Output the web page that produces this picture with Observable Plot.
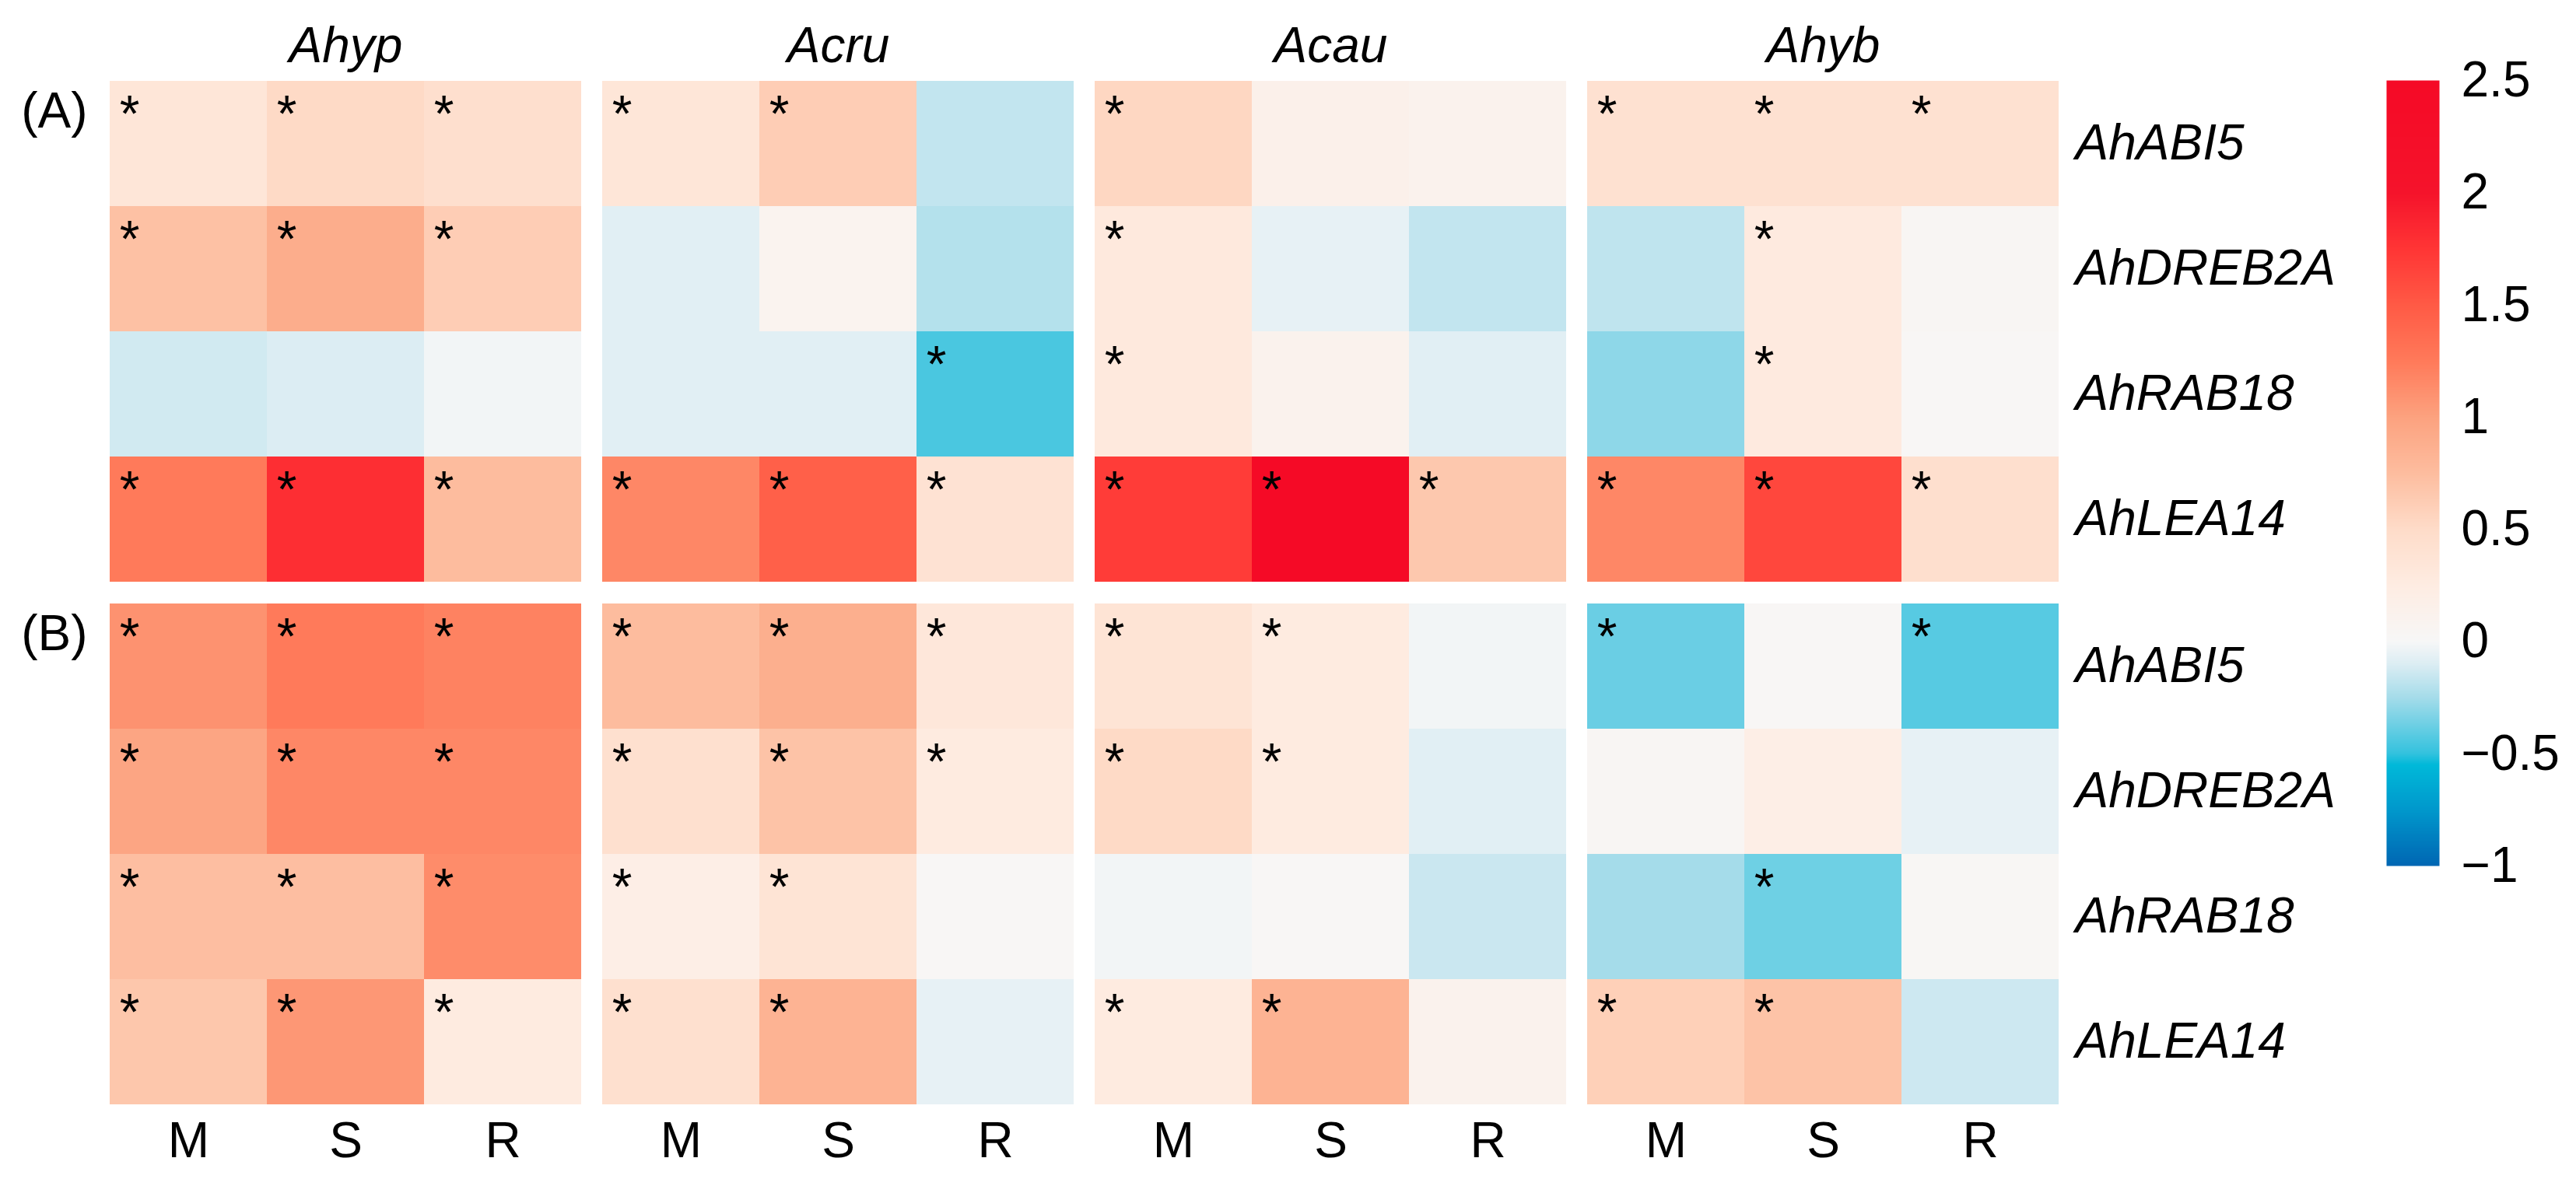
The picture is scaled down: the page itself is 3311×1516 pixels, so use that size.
<!DOCTYPE html>
<html>
<head>
<meta charset="utf-8">
<script src="https://cdn.jsdelivr.net/npm/d3@7"></script>
<script src="https://cdn.jsdelivr.net/npm/@observablehq/plot@0.6"></script>
<style>
  html, body { margin: 0; padding: 0; background: #fff; }
  #wrap { position: relative; width: 3311px; height: 1516px; background: #fff; }
  #main { position: absolute; left: 0; top: 0; }
  #bar { position: absolute; left: 3040px; top: 0; }
  [aria-label="fx-axis tick label"] text, [aria-label="y-axis tick label"] text { font-style: italic; }
  #bar [aria-label="y-axis tick label"] text { font-style: normal; }
</style>
</head>
<body>
<div id="wrap"><div id="main"></div><div id="bar"></div></div>
<script>
// ---- data ----
const species = ["Ahyp", "Acru", "Acau", "Ahyb"];
const treatments = ["M", "S", "R"];
const genes = ["AhABI5", "AhDREB2A", "AhRAB18", "AhLEA14"];
const panels = ["(A)", "(B)"];

// values per gene row: Ahyp M,S,R | Acru M,S,R | Acau M,S,R | Ahyb M,S,R
const valuesA = [
  [0.35, 0.52, 0.45,   0.35, 0.62, -0.17,   0.54, 0.16, 0.12,   0.42, 0.42, 0.42],
  [0.72, 0.90, 0.62,  -0.08, 0.10, -0.21,   0.30, -0.06, -0.17, -0.18, 0.28, 0.05],
  [-0.13, -0.10, -0.02, -0.08, -0.08, -0.45, 0.30, 0.12, -0.08, -0.30, 0.28, 0.02],
  [1.25, 1.80, 0.76,   1.17, 1.45, 0.40,    1.70, 2.50, 0.66,   1.17, 1.63, 0.45]
];
const valuesB = [
  [1.10, 1.25, 1.20,   0.76, 0.88, 0.33,    0.38, 0.27, -0.02, -0.38, 0.02, -0.42],
  [0.97, 1.17, 1.17,   0.44, 0.70, 0.27,    0.52, 0.27, -0.08,  0.05, 0.20, -0.06],
  [0.74, 0.74, 1.14,   0.20, 0.38, 0.02,   -0.02, 0.02, -0.15, -0.25, -0.37, 0.03],
  [0.67, 1.07, 0.27,   0.44, 0.84, -0.06,   0.27, 0.84, 0.12,   0.60, 0.70, -0.14]
];
// significance marks (*)
const sigA = [
  [1,1,1, 1,1,0, 1,0,0, 1,1,1],
  [1,1,1, 0,0,0, 1,0,0, 0,1,0],
  [0,0,0, 0,0,1, 1,0,0, 0,1,0],
  [1,1,1, 1,1,1, 1,1,1, 1,1,1]
];
const sigB = [
  [1,1,1, 1,1,1, 1,1,0, 1,0,1],
  [1,1,1, 1,1,1, 1,1,0, 0,0,0],
  [1,1,1, 1,1,0, 0,0,0, 0,1,0],
  [1,1,1, 1,1,0, 1,1,0, 1,1,0]
];
const colorTicks = [-1, -0.5, 0, 0.5, 1, 1.5, 2, 2.5];
const colorTickLabels = ["\u22121", "\u22120.5", "0", "0.5", "1", "1.5", "2", "2.5"];
const colorStops = [-1, -0.75, -0.55, -0.5, -0.25, -0.1, 0, 0.25, 0.5, 0.75, 1, 1.25, 1.5, 1.75, 2, 2.5];
const colorRange = ["#0066b3", "#0098cc", "#00b9d9", "#33c2de", "#a5dcea", "#dcedf3", "#f7f7f7",
  "#feece2", "#fedcc9", "#fdbd9f", "#fca27f", "#ff7a5a", "#ff5a45", "#ff3535", "#f5132b", "#f50a26"];

// ---- table ----
const rows = [];
[[panels[0], valuesA, sigA], [panels[1], valuesB, sigB]].forEach(([panel, vals, sigs]) => {
  genes.forEach((gene, gi) => {
    species.forEach((sp, si) => {
      treatments.forEach((t, ti) => {
        const k = si * 3 + ti;
        rows.push({panel, gene, species: sp, treatment: t, value: vals[gi][k], sig: sigs[gi][k] === 1});
      });
    });
  });
});
const panelLabels = panels.map(p => ({panel: p, species: species[0]}));

const font = "'Liberation Sans', Arial, Helvetica, sans-serif";
const colorOpts = {type: "linear", domain: colorStops, range: colorRange, clamp: true};

const main = Plot.plot({
  width: 3040, height: 1516,
  marginLeft: 141, marginRight: 394, marginTop: 103, marginBottom: 95,
  style: {fontFamily: font, background: "white", color: "black"},
  fx: {domain: species, paddingInner: 27 / 633, paddingOuter: 0, label: null},
  fy: {domain: panels, paddingInner: 27 / 672.5, paddingOuter: 0, label: null, axis: null},
  x: {domain: treatments, padding: 0, label: null},
  y: {domain: genes, padding: 0, label: null},
  color: colorOpts,
  marks: [
    Plot.cell(rows, {fx: "species", fy: "panel", x: "treatment", y: "gene", fill: "value", inset: 0, shapeRendering: "crispEdges"}),
    Plot.text(rows.filter(d => d.sig), {fx: "species", fy: "panel", x: "treatment", y: "gene", text: () => "*",
      fontSize: 66, dx: -76, dy: -37, fill: "black"}),
    Plot.text(panelLabels, {fx: "species", fy: "panel", text: "panel", frameAnchor: "top-left", textAnchor: "end",
      lineAnchor: "middle", dx: -29, dy: 40, fontSize: 64, fill: "black"}),
    Plot.axisFx({anchor: "top", tickSize: 0, tickPadding: 24, fontSize: 64, fontStyle: "italic", label: null}),
    Plot.axisX({anchor: "bottom", tickSize: 0, tickPadding: 22, fontSize: 64, label: null}),
    Plot.axisY({anchor: "right", tickSize: 0, tickPadding: 21, fontSize: 64, fontStyle: "italic", label: null})
  ]
});
document.getElementById("main").appendChild(main);

const bar = Plot.plot({
  width: 271, height: 1516,
  marginLeft: 27, marginRight: 176, marginTop: 103, marginBottom: 403,
  style: {fontFamily: font, background: "white", color: "black"},
  x: {domain: [0, 1], axis: null},
  y: {domain: [-1, 2.5], axis: null},
  color: colorOpts,
  marks: [
    Plot.raster({x1: 0, x2: 1, y1: -1, y2: 2.5, fill: (x, y) => y, width: 2, height: 700}),
    Plot.axisY({anchor: "right", ticks: colorTicks, tickFormat: d => colorTickLabels[colorTicks.indexOf(d)],
      tickSize: 0, tickPadding: 28, fontSize: 64, label: null})
  ]
});
document.getElementById("bar").appendChild(bar);
</script>
</body>
</html>
